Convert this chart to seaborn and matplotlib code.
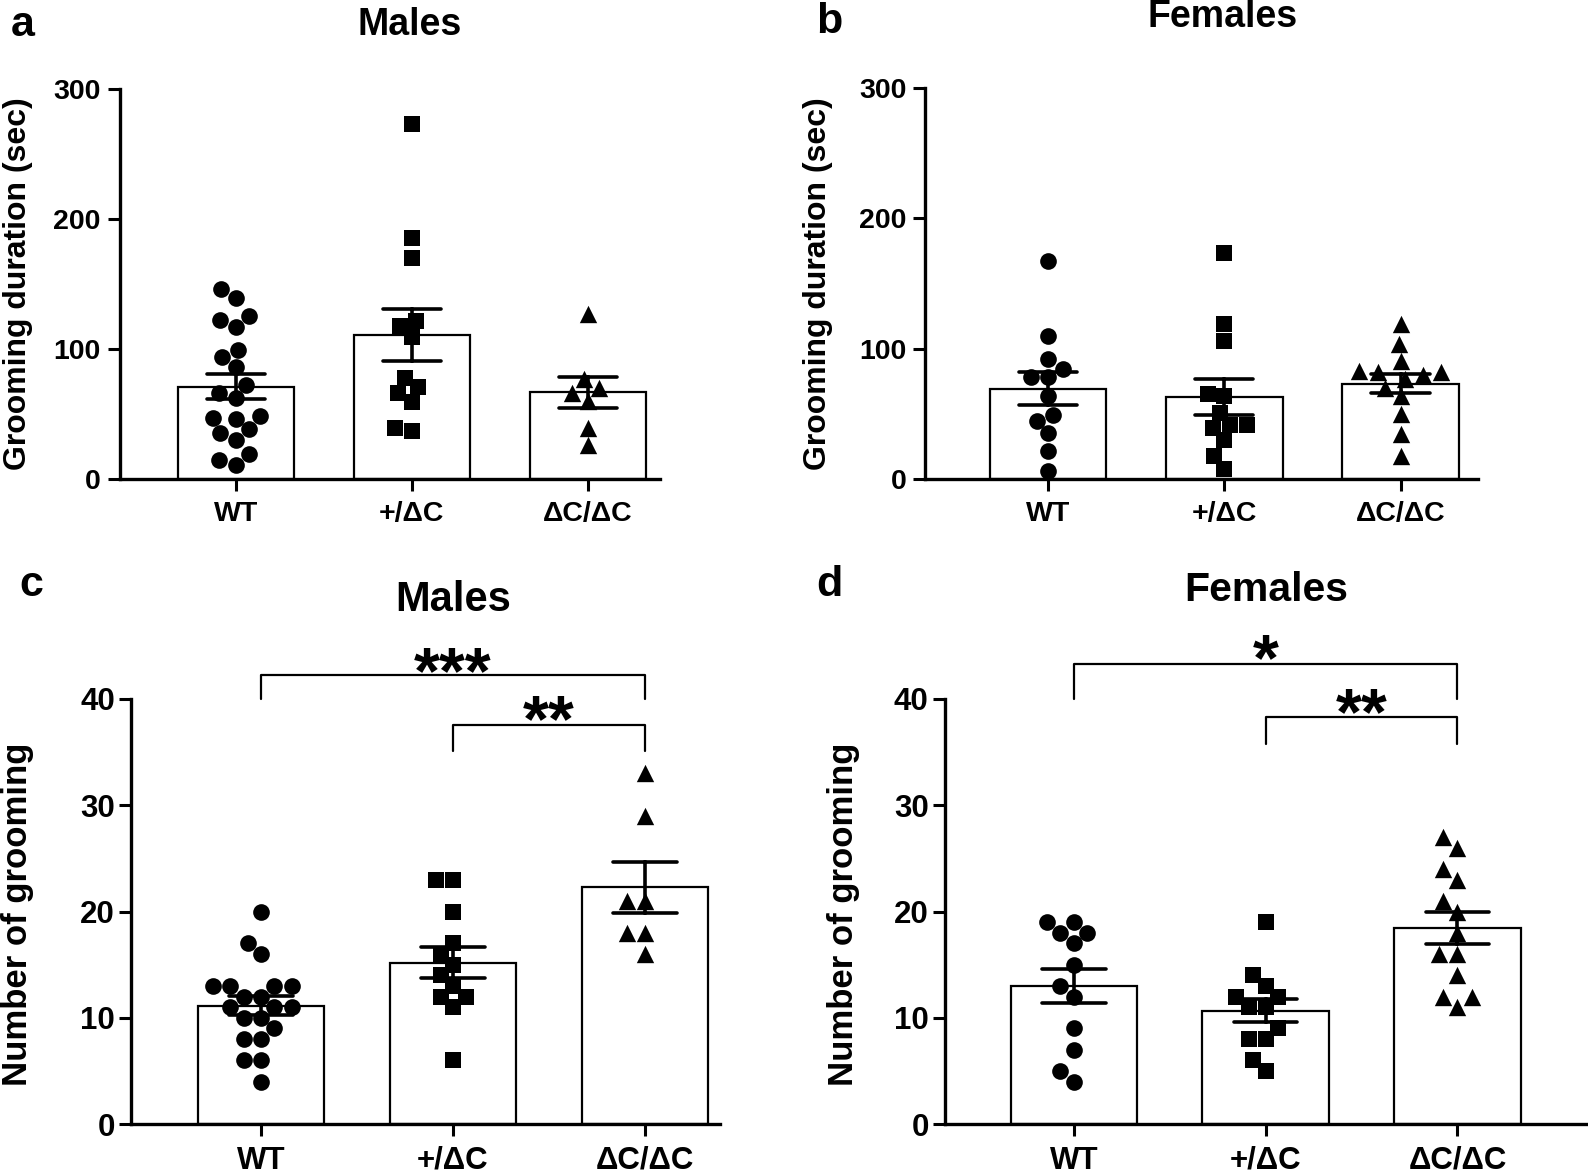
import numpy as np
import pandas as pd
import matplotlib
matplotlib.use("Agg")
import matplotlib.pyplot as plt
import seaborn as sns

# ---------------- data ----------------
groups = ["WT", "+/ΔC", "ΔC/ΔC"]
markers = ["o", "s", "^"]

# (a) Males - grooming duration (sec)
a_wt = [45.8, 29.9, 11.1, 139.3, 116.9, 94.0, 62.1, 38.1, 146.3, 125.7,
        99.1, 86.3, 66.4, 47.1, 14.9, 122.3, 72.4, 48.4, 35.5, 19.3]
a_het = [273.0, 185.7, 170.2, 121.8, 117.9, 108.9, 78.0, 70.8, 66.4, 59.5, 39.4, 37.3]
a_hom = [127.2, 77.3, 70.3, 66.4, 60.0, 39.4, 25.8]

# (b) Females - grooming duration (sec)
b_wt = [167.6, 110.1, 92.2, 84.5, 77.9, 77.9, 63.3, 49.3, 44.7, 35.2, 21.7, 6.4]
b_het = [173.4, 118.8, 105.9, 65.4, 63.6, 50.8, 41.8, 41.3, 38.8, 29.8, 17.5, 8.0]
b_hom = [119.2, 103.8, 90.5, 82.8, 82.3, 82.3, 79.8, 76.5, 70.0, 63.6, 49.5, 34.2, 17.5]

# (c) Males - number of grooming
c_wt = [20, 17, 16, 13, 13, 13, 13, 12, 12, 11, 11, 11, 10, 10, 9, 8, 8, 6, 6, 4]
c_het = [23, 23, 20, 17, 16, 15, 14, 13, 12, 12, 11, 6]
c_hom = [33, 29, 21, 21, 18, 18, 16]

# (d) Females - number of grooming
d_wt = [19, 19, 18, 18, 17, 15, 13, 12, 9, 7, 5, 4]
d_het = [19, 14, 13, 12, 12, 11, 11, 9, 8, 8, 6, 5]
d_hom = [27, 26, 24, 23, 21, 20, 18, 16, 16, 14, 12, 12, 11]

dur_ticks = [0, 100, 200, 300]
cnt_ticks = [0, 10, 20, 30, 40]

# ---------------- style ----------------
sns.set_style("ticks")
plt.rcParams["font.family"] = ["Liberation Sans", "DejaVu Sans"]
plt.rcParams["font.weight"] = "bold"
plt.rcParams["axes.labelweight"] = "bold"
for k in ("text.color", "axes.labelcolor", "xtick.color", "ytick.color", "axes.edgecolor"):
    plt.rcParams[k] = "black"

W, H = 1588, 1174
fig = plt.figure(figsize=(W / 100, H / 100), dpi=100)


def px_axes(left, right, top, bottom):
    return fig.add_axes([left / W, 1 - bottom / H, (right - left) / W, (bottom - top) / H])


def panel(ax, lists, ylim, yticks, xlim, tick_fs, ypad, xpad, msize):
    df = pd.DataFrame({
        "group": np.repeat(groups, [len(v) for v in lists]),
        "value": np.concatenate([np.asarray(v, float) for v in lists]),
    })
    sns.barplot(data=df, x="group", y="value", order=groups, errorbar="se",
                capsize=0.33, width=0.66, color="white", saturation=1,
                edgecolor="black", linewidth=1.6,
                err_kws={"color": "black", "linewidth": 2.6}, ax=ax)
    for g, m, s in zip(groups, markers, msize):
        sub = df[df["group"] == g]
        sns.swarmplot(data=sub, x="group", y="value", order=groups, marker=m,
                      color="black", size=s, linewidth=0, ax=ax, zorder=3)
    ax.set_xlim(*xlim)
    ax.set_ylim(*ylim)
    ax.set_yticks(yticks)
    ax.set_xlabel("")
    ax.set_ylabel("")
    sns.despine(ax=ax)
    for sp in ("left", "bottom"):
        ax.spines[sp].set_linewidth(2.4)
        ax.spines[sp].set_color("black")
    ax.tick_params(axis="both", width=2.2, length=8.5, labelsize=tick_fs, colors="black")
    ax.tick_params(axis="y", pad=ypad)
    ax.tick_params(axis="x", pad=xpad)


def bracket(ax, x0, x1, y, leg, text, fs, off):
    ax.plot([x0, x0, x1, x1], [leg, y, y, leg], color="black", lw=1.6, clip_on=False)
    ax.annotate(text, xy=((x0 + x1) / 2, y), xytext=(0, off), textcoords="offset points",
                ha="center", va="baseline", fontsize=fs, fontweight="bold",
                color="black", annotation_clip=False)


ms = [12, 11.5, 12.5]

ax_a = px_axes(119.6, 660, 89, 479)
panel(ax_a, [a_wt, a_het, a_hom], (0, 300), dur_ticks, (-0.66, 2.41), 20.5, 5, 7, ms)
ax_b = px_axes(925, 1478, 88, 479)
panel(ax_b, [b_wt, b_het, b_hom], (0, 300), dur_ticks, (-0.70, 2.44), 20.5, 5, 7, ms)
ax_c = px_axes(131, 720, 699, 1124)
panel(ax_c, [c_wt, c_het, c_hom], (0, 40), cnt_ticks, (-0.677, 2.39), 22.5, 3, 7, ms)
ax_d = px_axes(944.6, 1586, 699, 1124)
panel(ax_d, [d_wt, d_het, d_hom], (0, 40), cnt_ticks, (-0.674, 2.67), 22.5, 3, 7, ms)

bracket(ax_c, 0, 2, 42.3, 40.0, "***", 48, -13)
bracket(ax_c, 1, 2, 37.6, 35.1, "**", 48, -12)
bracket(ax_d, 0, 2, 43.3, 40.0, "*", 48, -12)
bracket(ax_d, 1, 2, 38.3, 35.8, "**", 48, -12)


def ftext(x, y, s, **kw):
    fig.text(x / W, 1 - y / H, s, ha="center", va="center", fontweight="bold",
             color="black", **kw)


ftext(23, 25, "a", fontsize=31)
ftext(829, 22, "b", fontsize=31)
ftext(31, 585, "c", fontsize=31)
ftext(829, 585, "d", fontsize=31)
ftext(410, 25, "Males", fontsize=27)
ftext(1223, 17, "Females", fontsize=27)
ftext(453, 600, "Males", fontsize=30)
ftext(1266, 590, "Females", fontsize=29.5)
ftext(18, 284, "Grooming duration (sec)", fontsize=23, rotation=90)
ftext(818, 284, "Grooming duration (sec)", fontsize=23, rotation=90)
ftext(18, 914, "Number of grooming", fontsize=25, rotation=90)
ftext(843, 914, "Number of grooming", fontsize=25, rotation=90)

fig.savefig("out.png", dpi=100)
